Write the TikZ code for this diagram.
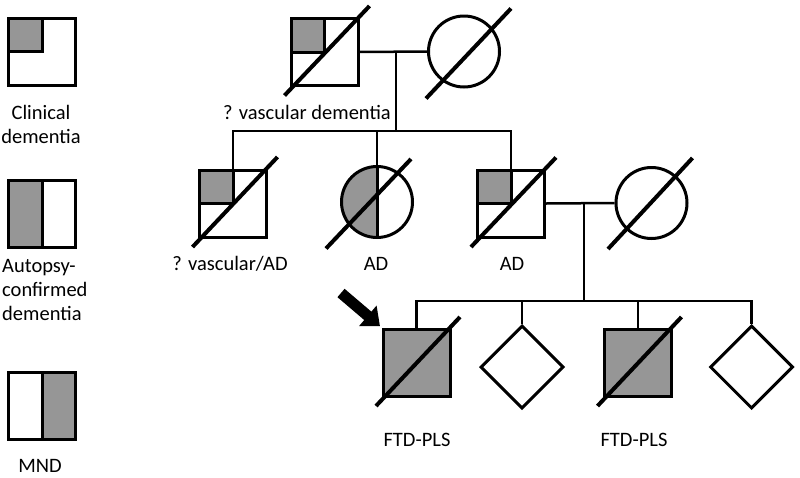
\documentclass[tikz,border=0pt]{standalone}
\usepackage{fontspec}
\setmainfont{Carlito}
\usetikzlibrary{shapes.geometric,arrows.meta}
\definecolor{fillgray}{RGB}{150,150,150}
\newcommand{\slashat}[5]{\draw[slash] ([shift={(#2,#3)}]#1.center) -- ([shift={(#4,#5)}]#1.center);}
\begin{document}
\begin{tikzpicture}[x=1pt,y=-1pt,
  lbl/.style={font=\fontsize{20.5pt}{24pt}\selectfont, inner sep=0pt},
  sq/.style={draw, line width=3pt, minimum size=67pt, inner sep=0pt, fill=white},
  circ/.style={circle, draw, line width=3pt, minimum size=71pt, inner sep=0pt, fill=white},
  dia/.style={diamond, draw, line width=3pt, minimum size=83pt, inner sep=0pt, fill=white},
  conn/.style={line width=2.5pt},
  slash/.style={line width=4pt},
  quadTL/.style={path picture={
    \fill[fillgray] (path picture bounding box.north west) rectangle (path picture bounding box.center);
    \draw[line width=3pt] (path picture bounding box.north) -- (path picture bounding box.center) -- (path picture bounding box.west);}},
  halfL/.style={path picture={
    \fill[fillgray] (path picture bounding box.north west) rectangle (path picture bounding box.south);
    \draw[line width=3pt] (path picture bounding box.north) -- (path picture bounding box.south);}},
  halfR/.style={path picture={
    \fill[fillgray] (path picture bounding box.north) rectangle (path picture bounding box.south east);
    \draw[line width=3pt] (path picture bounding box.north) -- (path picture bounding box.south);}},
  affected/.style={fill=fillgray}
]
\useasboundingbox (0,0) rectangle (800,477);

% legend
\node[sq, quadTL] (leg1) at (42,51.5) {};
\node[lbl, anchor=base, align=center] (legt1) at (41,143) {Clinical\\dementia};
\node[sq, halfL] (leg2) at (42,213.5) {};
\node[lbl, anchor=base west, align=left] (legt2) at (2,320) {Autopsy-\\confirmed\\dementia};
\node[sq, halfR] (leg3) at (42,406) {};
\node[lbl, anchor=base] (legt3) at (40,472) {MND};

% generation I
\node[sq, quadTL] (gf) at (324.5,52) {};
\node[circ] (gm) at (464,51.5) {};
\node[lbl, anchor=base] (lgf) at (307,119) {? vascular dementia};

% generation II
\node[sq, quadTL] (son1) at (233,203.5) {};
\node[circ, halfL] (dau) at (377,202) {};
\node[sq, quadTL] (son2) at (511,203.5) {};
\node[circ] (sp) at (651.5,203) {};
\node[lbl, anchor=base] (ls1) at (230,270) {? vascular/AD};
\node[lbl, anchor=base] (ld) at (376,270) {AD};
\node[lbl, anchor=base] (ls2) at (512,270) {AD};

% generation III
\node[sq, affected] (pro) at (416.5,362.5) {};
\node[dia] (d1) at (522,367) {};
\node[sq, affected] (sq2) at (638,362.5) {};
\node[dia] (d2) at (751.5,367) {};
\node[lbl, anchor=base] (lp) at (417,446) {FTD-PLS};
\node[lbl, anchor=base] (lq) at (634,446) {FTD-PLS};

% connectors
\coordinate (m1) at (396,52);
\coordinate (s1) at (396,131);
\draw[conn] (gf.east) -- (gm.west);
\draw[conn] (m1) -- (s1);
\draw[conn] (son1.north) |- (s1) -| (son2.north);
\draw[conn] (dau.north) -- (dau.north |- s1);

\coordinate (m2) at (584,203.5);
\coordinate (s2) at (584,301);
\draw[conn] (son2.east) -- (sp.west);
\draw[conn] (m2) -- (s2);
\draw[conn] (pro.north) |- (s2) -| (d2.north);
\draw[conn] (d1.north) -- (d1.north |- s2);
\draw[conn] (sq2.north) -- (sq2.north |- s2);

% deceased slashes
\slashat{gf}{-40}{43.5}{45}{-46}
\slashat{gm}{-38}{47}{47}{-43}
\slashat{son1}{-40.5}{43.5}{44.5}{-46.5}
\slashat{dau}{-51}{46.5}{34}{-43}
\slashat{son2}{-40}{43.5}{45}{-46}
\slashat{sp}{-43.5}{46}{41}{-45}
\slashat{pro}{-40.5}{43.5}{43.5}{-45.5}
\slashat{sq2}{-40.5}{43.5}{43.5}{-45.5}

% proband arrow
\coordinate (arrtail) at (341,293);
\draw[line width=11pt, -{Triangle[width=26pt,length=16pt]}, shorten >=2pt] (arrtail) -- (pro.north west);
\end{tikzpicture}
\end{document}
